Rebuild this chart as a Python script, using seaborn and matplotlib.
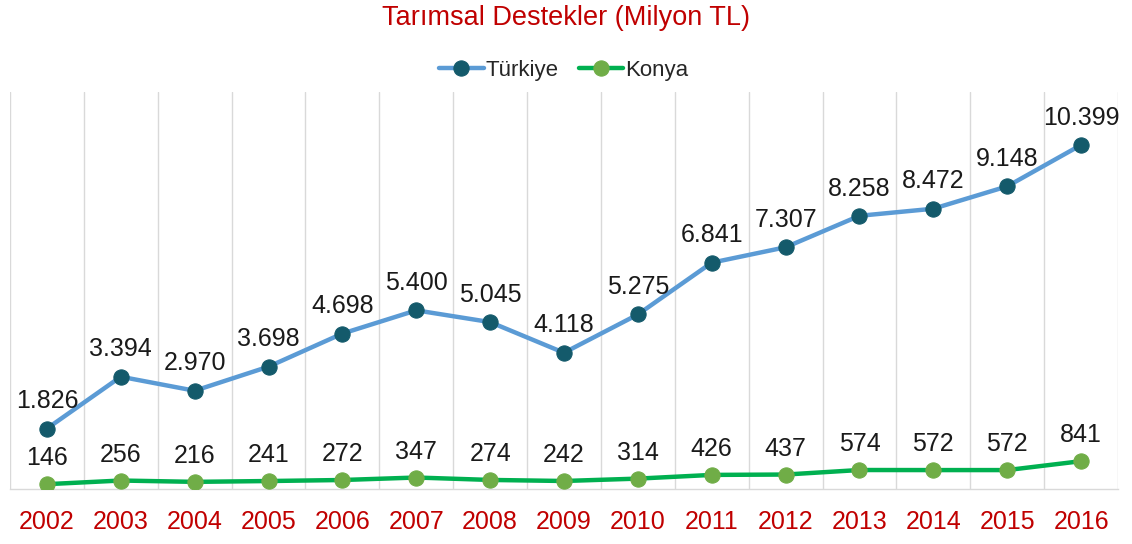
import matplotlib
matplotlib.use("Agg")
import matplotlib.pyplot as plt
import seaborn as sns
import pandas as pd

years = [2002, 2003, 2004, 2005, 2006, 2007, 2008, 2009, 2010, 2011, 2012, 2013, 2014, 2015, 2016]
turkiye = [1826, 3394, 2970, 3698, 4698, 5400, 5045, 4118, 5275, 6841, 7307, 8258, 8472, 9148, 10399]
konya = [146, 256, 216, 241, 272, 347, 274, 242, 314, 426, 437, 574, 572, 572, 841]
title = "Tarımsal Destekler (Milyon TL)"

sns.set_theme(style="white")
plt.rcParams['font.family'] = ['Liberation Sans Narrow', 'Liberation Sans', 'DejaVu Sans']

fig = plt.figure(figsize=(11.32, 5.44), dpi=100)
ax = fig.add_axes([10/1132, 55/544, 1108/1132, (489-92)/544])

df = pd.DataFrame({"pos": list(range(len(years))), "Türkiye": turkiye, "Konya": konya})

def fmt(v):
    return f"{v:,}".replace(",", ".")

sns.lineplot(data=df, x="pos", y="Türkiye", ax=ax, color="#5B9BD5", linewidth=3.2,
             marker="o", markersize=11, markerfacecolor="#145A6B", markeredgecolor="#145A6B",
             label="Türkiye", zorder=3)
sns.lineplot(data=df, x="pos", y="Konya", ax=ax, color="#00B050", linewidth=3.2,
             marker="o", markersize=11, markerfacecolor="#70AD47", markeredgecolor="#70AD47",
             label="Konya", zorder=3)

for i, v in enumerate(turkiye):
    ax.annotate(fmt(v), (i, v), xytext=(0, 11), textcoords="offset points",
                ha="center", va="bottom", fontsize=18, color="#1a1a1a")
for i, v in enumerate(konya):
    ax.annotate(fmt(v), (i, v), xytext=(0, 10), textcoords="offset points",
                ha="center", va="bottom", fontsize=18, color="#1a1a1a")

ax.set_xlim(-0.5, len(years) - 0.5)
ax.set_ylim(0, 12000)
ax.set_xticks(range(len(years)))
ax.set_xticklabels([str(y) for y in years], color="#C00000", fontsize=18)
ax.tick_params(axis="x", length=0, pad=15)
ax.set_yticks([])
ax.set_xlabel("")
ax.set_ylabel("")

for k in range(len(years) + 1):
    ax.axvline(k - 0.5, color="#D9D9D9", linewidth=1, zorder=0)

for s in ["top", "right"]:
    ax.spines[s].set_visible(False)
ax.spines["left"].set_visible(False)
ax.spines["bottom"].set_color("#D9D9D9")
ax.spines["bottom"].set_linewidth(1)

leg = ax.legend(loc="center", bbox_to_anchor=(0.5, 1 + 22/397), ncol=2, frameon=False,
                fontsize=16, handlelength=2.0, handletextpad=0.1, columnspacing=0.9)

fig.text(0.5, 1 - 18/544, title, ha="center", va="center", fontsize=19.5, color="#C00000")

fig.savefig("out.png", dpi=100)
